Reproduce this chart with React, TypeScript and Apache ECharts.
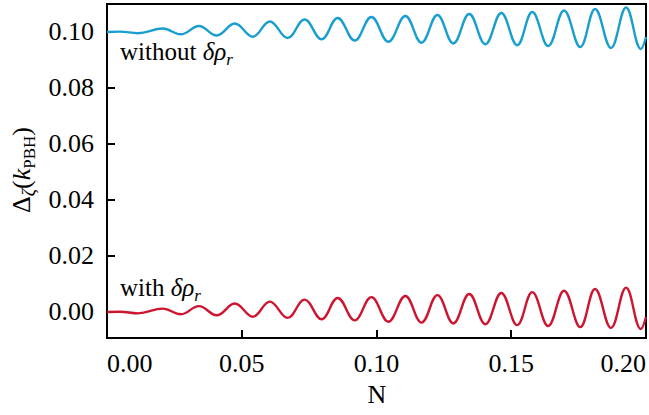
import React, { useEffect, useRef } from "react";
import * as echarts from "echarts";

// N values at the extrema
const nValues = [
  0, 0.0048, 0.0115, 0.0207, 0.0274, 0.0341, 0.0407, 0.0474, 0.0541, 0.0604,
  0.067, 0.0733, 0.0796, 0.0856, 0.0919, 0.0981, 0.1044, 0.1107, 0.1167, 0.1226,
  0.1285, 0.1344, 0.1404, 0.1463, 0.1522, 0.1578, 0.1637, 0.1696, 0.1756, 0.1811,
  0.187, 0.1926, 0.1981, 0.2,
];

// Δζ without δρ_r
const withoutValues = [
  0.1, 0.10014, 0.09957, 0.10125, 0.09918, 0.10214, 0.09875, 0.10304, 0.09832, 0.10375,
  0.09786, 0.10446, 0.09739, 0.105, 0.09696, 0.10536, 0.09654, 0.10571, 0.09618, 0.10607,
  0.09589, 0.10643, 0.09561, 0.10679, 0.09529, 0.10714, 0.095, 0.10768, 0.09464, 0.10821,
  0.09429, 0.10875, 0.09393, 0.09821,
];

// Δζ with δρ_r
const withValues = [
  0.0, 0.0001, -0.0005, 0.0012, -0.0008, 0.0021, -0.0012, 0.003, -0.0017, 0.0037,
  -0.0021, 0.0044, -0.0026, 0.005, -0.003, 0.0053, -0.0035, 0.0057, -0.0038, 0.006,
  -0.0041, 0.0064, -0.0044, 0.0068, -0.0047, 0.0071, -0.005, 0.0076, -0.0054, 0.0082,
  -0.0057, 0.0087, -0.0061, -0.0018,
];

const yTicks = [0, 0.02, 0.04, 0.06, 0.08, 0.1];

const FONT = "Liberation Serif";

export default function App() {
  const ref = useRef<HTMLDivElement>(null);
  useEffect(() => {
    if (!ref.current) return;
    const chart = echarts.init(ref.current, null, { renderer: "svg" });
    const blue = withoutValues.map((v, i) => [nValues[i], v]);
    const red = withValues.map((v, i) => [nValues[i], v]);
    chart.setOption({
      animation: false,
      backgroundColor: "#ffffff",
      textStyle: { fontFamily: FONT },
      grid: {
        left: 107,
        right: 2,
        top: 4,
        bottom: 77,
        show: true,
        borderColor: "#000",
        borderWidth: 2,
        backgroundColor: "transparent",
      },
      xAxis: {
        type: "value",
        position: "bottom",
        min: 0,
        max: 0.2,
        interval: 0.05,
        splitLine: { show: false },
        axisLine: { show: true, onZero: false, lineStyle: { color: "#000", width: 2 } },
        axisTick: { show: true, inside: true, length: 8, lineStyle: { color: "#000", width: 2 } },
        axisLabel: {
          margin: 12,
          fontFamily: FONT,
          fontSize: 26,
          color: "#000",
          alignMinLabel: "left",
          alignMaxLabel: "right",
          formatter: (v: number) => v.toFixed(2),
        },
      },
      yAxis: {
        type: "value",
        position: "left",
        min: -0.0093,
        max: 0.11,
        splitLine: { show: false },
        axisLine: { show: true, onZero: false, lineStyle: { color: "#000", width: 2 } },
        axisTick: {
          show: true,
          inside: true,
          length: 8,
          customValues: yTicks,
          lineStyle: { color: "#000", width: 2 },
        },
        axisLabel: {
          margin: 13,
          fontFamily: FONT,
          fontSize: 26,
          color: "#000",
          customValues: yTicks,
          formatter: (v: number) => v.toFixed(2),
        },
      },
      series: [
        {
          name: "without δρ_r",
          type: "line",
          data: blue,
          smooth: 0.4,
          showSymbol: false,
          lineStyle: { color: "#189fcf", width: 2.4 },
          itemStyle: { color: "#189fcf" },
          z: 3,
        },
        {
          name: "with δρ_r",
          type: "line",
          data: red,
          smooth: 0.4,
          showSymbol: false,
          lineStyle: { color: "#cd1530", width: 2.4 },
          itemStyle: { color: "#cd1530" },
          z: 3,
        },
      ],
      graphic: [
        {
          type: "text",
          x: 120,
          y: 51,
          style: {
            text: "{a|without }{b|δρ}{s|r}",
            verticalAlign: "middle",
            fill: "#000",
            rich: {
              a: { fontFamily: FONT, fontSize: 25, lineHeight: 34, fill: "#000" },
              b: { fontFamily: FONT, fontSize: 25, fontStyle: "italic", lineHeight: 34, fill: "#000" },
              s: { fontFamily: FONT, fontSize: 17, fontStyle: "italic", lineHeight: 17, verticalAlign: "bottom", fill: "#000" },
            },
          },
        },
        {
          type: "text",
          x: 120,
          y: 287,
          style: {
            text: "{a|with }{b|δρ}{s|r}",
            verticalAlign: "middle",
            fill: "#000",
            rich: {
              a: { fontFamily: FONT, fontSize: 25, lineHeight: 34, fill: "#000" },
              b: { fontFamily: FONT, fontSize: 25, fontStyle: "italic", lineHeight: 34, fill: "#000" },
              s: { fontFamily: FONT, fontSize: 17, fontStyle: "italic", lineHeight: 17, verticalAlign: "bottom", fill: "#000" },
            },
          },
        },
        {
          type: "text",
          x: 21,
          y: 170,
          rotation: Math.PI / 2,
          style: {
            text: "{a|Δ}{i|ζ}{a|(}{k|k}{s|PBH}{a|)}",
            align: "center",
            verticalAlign: "middle",
            fill: "#000",
            rich: {
              a: { fontFamily: FONT, fontSize: 26, lineHeight: 34, fill: "#000" },
              k: { fontFamily: FONT, fontSize: 26, fontStyle: "italic", lineHeight: 34, fill: "#000" },
              i: { fontFamily: FONT, fontSize: 18, fontStyle: "italic", lineHeight: 18, verticalAlign: "bottom", fill: "#000" },
              s: { fontFamily: FONT, fontSize: 17, lineHeight: 17, verticalAlign: "bottom", fill: "#000" },
            },
          },
        },
        {
          type: "text",
          x: 377,
          y: 394,
          style: {
            text: "N",
            align: "center",
            verticalAlign: "middle",
            fontFamily: FONT,
            fontSize: 26,
            fill: "#000",
          },
        },
      ],
    });
    return () => chart.dispose();
  }, []);
  return <div ref={ref} style={{ width: 649, height: 415, position: "absolute", left: 0, top: 0 }} />;
}
